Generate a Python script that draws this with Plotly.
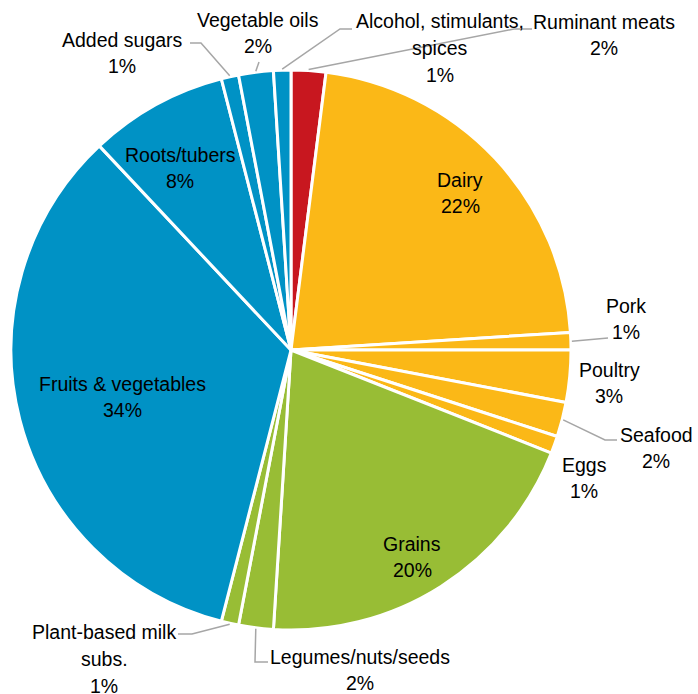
import math
import plotly.graph_objects as go

# Share of total, by food group (clockwise from 12 o'clock)
labels = ["Ruminant meats", "Dairy", "Pork", "Poultry", "Seafood", "Eggs",
          "Grains", "Legumes/nuts/seeds", "Plant-based milk subs.",
          "Fruits & vegetables", "Roots/tubers", "Added sugars",
          "Vegetable oils", "Alcohol, stimulants, spices"]
values = [2, 22, 1, 3, 2, 1, 20, 2, 1, 34, 8, 1, 2, 1]
groups = ["red", "animal", "animal", "animal", "animal", "animal",
          "grain", "grain", "grain", "plant", "plant", "plant", "plant", "plant"]
# how each name is wrapped on the chart
display_lines = [["Ruminant meats"], ["Dairy"], ["Pork"], ["Poultry"], ["Seafood"],
                 ["Eggs"], ["Grains"], ["Legumes/nuts/seeds"],
                 ["Plant-based milk", "subs."], ["Fruits & vegetables"],
                 ["Roots/tubers"], ["Added sugars"], ["Vegetable oils"],
                 ["Alcohol, stimulants,", "spices"]]

group_colors = {"red": "#C8171F", "animal": "#FBB817",
                "grain": "#98BD35", "plant": "#0092C5"}

W, H = 698, 694
# pie placement in pixels
PIE_LEFT, PIE_TOP, PIE_SIZE = 11, 70, 560
CX, CY, R = PIE_LEFT + PIE_SIZE / 2, PIE_TOP + PIE_SIZE / 2, PIE_SIZE / 2
LINE_GAP = 26.7  # px between text lines

# label block centres (px) and leader-line elbows (px) per slice
label_pos = {
    "Ruminant meats": (604, 35), "Dairy": (460, 193), "Pork": (626, 319),
    "Poultry": (609, 383), "Seafood": (656, 448), "Eggs": (584, 478),
    "Grains": (412, 557), "Legumes/nuts/seeds": (360, 670),
    "Plant-based milk subs.": (104, 659), "Fruits & vegetables": (122, 397),
    "Roots/tubers": (180, 168), "Added sugars": (122, 53),
    "Vegetable oils": (258, 33), "Alcohol, stimulants, spices": (440, 48),
}
leader_elbows = {
    "Ruminant meats": [(514, 29), (532, 29)],
    "Pork": [(608, 338)],
    "Seafood": [(605, 440), (617, 440)],
    "Legumes/nuts/seeds": [(255, 662), (268, 662)],
    "Plant-based milk subs.": [(192, 634), (178, 634)],
    "Added sugars": [(201, 43), (190, 43)],
    "Vegetable oils": [(259, 62)],
    "Alcohol, stimulants, spices": [(340, 29), (352, 29)],
}


def px(x, y):
    return x / W, 1 - y / H


fig = go.Figure(go.Pie(
    labels=labels, values=values, sort=False, direction="clockwise",
    rotation=0, textinfo="none", hoverinfo="label+value",
    marker=dict(colors=[group_colors[g] for g in groups],
                line=dict(color="white", width=3)),
    domain=dict(x=[PIE_LEFT / W, (PIE_LEFT + PIE_SIZE) / W],
                y=[1 - (PIE_TOP + PIE_SIZE) / H, 1 - PIE_TOP / H]),
    showlegend=False,
))

total = sum(values)
cum = 0
shapes, annotations = [], []
font = dict(family="Liberation Sans, Arial, sans-serif", size=19.5, color="#000000")
for lab, lines, v in zip(labels, display_lines, values):
    mid = (cum + v / 2) / total * 2 * math.pi
    cum += v
    lx, ly = label_pos[lab]
    rows = lines + [f"{v}%"]
    n = len(rows)
    for i, row in enumerate(rows):
        x, y = px(lx, ly + (i - (n - 1) / 2) * LINE_GAP)
        annotations.append(dict(x=x, y=y, xref="paper", yref="paper",
                                text=row, showarrow=False,
                                xanchor="center", yanchor="middle",
                                align="center", font=font))
    if lab in leader_elbows:
        ex = CX + (R + 1) * math.sin(mid)
        ey = CY - (R + 1) * math.cos(mid)
        pts = [(ex, ey)] + leader_elbows[lab]
        path = "M " + " L ".join(f"{px(a, b)[0]},{px(a, b)[1]}" for a, b in pts)
        shapes.append(dict(type="path", xref="paper", yref="paper", path=path,
                           line=dict(color="#A6A6A6", width=1.5)))

fig.update_layout(
    width=W, height=H, margin=dict(l=0, r=0, t=0, b=0, pad=0),
    paper_bgcolor="white", plot_bgcolor="white",
    shapes=shapes, annotations=annotations,
)
fig.write_html("out.html")
